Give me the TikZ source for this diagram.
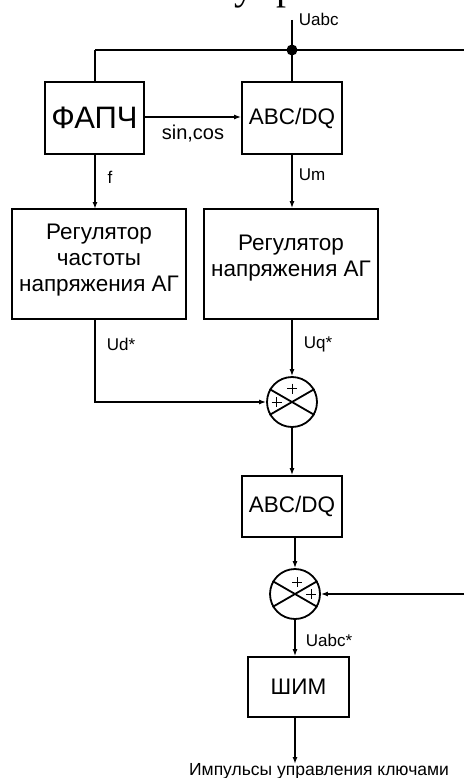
\documentclass[tikz,border=0pt]{standalone}
\usepackage{fontspec}
\setmainfont{Liberation Sans}
\newfontfamily\headfont{Liberation Serif}
\usetikzlibrary{arrows.meta}
\begin{document}
\begin{tikzpicture}[x=1pt,y=-1pt,
  line width=1.8pt,
  blk/.style={draw, rectangle, inner sep=0, line width=1.8pt},
  sumnode/.style={draw, circle, minimum size=50pt, inner sep=0, line width=1.8pt},
  arr/.style={-{Latex[length=7pt,width=5pt]}},
  lbl/.style={inner sep=0, font=\fontsize{17}{19}\selectfont},
  plus/.style={line width=0.8pt},
  regtext/.style={inner sep=0, align=center, font=\fontsize{22.5}{26}\selectfont},
]
\useasboundingbox (0,0) rectangle (464,778);

% heading fragment, cut at the top edge
\begin{scope}
  \clip (0,0) rectangle (464,778);
  \node[anchor=base west, inner sep=0, font=\headfont\fontsize{40}{40}\selectfont] (hu) at (234,0) {у};
  \node[anchor=base west, inner sep=0, font=\headfont\fontsize{40}{40}\selectfont] (hr) at (276,0) {р};
\end{scope}

% blocks
\node[blk, minimum width=99pt, minimum height=72pt, font=\fontsize{31}{32}\selectfont] (pll) at (94.5,118) {ФАПЧ};
\node[blk, minimum width=100pt, minimum height=72pt, font=\fontsize{22.5}{24}\selectfont] (abc1) at (292,118) {ABC/DQ};
\node[blk, minimum width=174pt, minimum height=110pt] (regf) at (99,264) {};
\node[regtext] (regftext) at (99,260) {Регулятор\\частоты\\напряжения АГ};
\node[blk, minimum width=174pt, minimum height=110pt] (regu) at (291,264) {};
\node[regtext] (regutext) at (291,258) {Регулятор\\напряжения АГ};
\node[sumnode] (s1) at (292,402) {};
\node[blk, minimum width=100pt, minimum height=61pt, font=\fontsize{22.5}{24}\selectfont] (abc2) at (292,506.5) {ABC/DQ};
\node[sumnode] (s2) at (295,594) {};
\node[blk, minimum width=101pt, minimum height=60pt, font=\fontsize{22.5}{24}\selectfont] (pwm) at (298.5,687) {ШИМ};

% crosses inside the summing junctions
\draw (s1.30) -- (s1.210) (s1.150) -- (s1.330);
\draw (s2.30) -- (s2.210) (s2.150) -- (s2.330);
\draw[plus] ([shift={(0,-13.5)}]s1.center) +(-5,0) -- +(5,0) +(0,-5) -- +(0,5);
\draw[plus] ([shift={(-15.5,0)}]s1.center) +(-5,0) -- +(5,0) +(0,-5) -- +(0,5);
\draw[plus] ([shift={(2,-12)}]s2.center) +(-5,0) -- +(5,0) +(0,-5) -- +(0,5);
\draw[plus] ([shift={(16,0)}]s2.center) +(-5,0) -- +(5,0) +(0,-5) -- +(0,5);

% input bus
\coordinate (uin) at (292,20);
\coordinate (bus) at (292,50);
\coordinate (busl) at (95,50);
\coordinate (busr) at (464,50);
\draw (uin) -- (bus);
\draw (busl) -- (busr);
\draw (busl) -- (busl |- pll.north);
\draw (bus) -- (abc1.north);
\fill (bus) circle (5.5pt);
\node[lbl, anchor=west] (luabc) at (298,19) {Uabc};

% signal flow
\draw[arr] (pll.east |- 0,117) -- (abc1.west |- 0,117);
\node[inner sep=0, font=\fontsize{20}{22}\selectfont] (lsin) at (193,134) {sin,cos};
\draw[arr] (95,154) -- (95,209);
\node[lbl] (lf) at (110,177) {f};
\draw[arr] (abc1.south) -- (regu.north -| abc1.south);
\node[lbl, anchor=west] (lum) at (298,175) {Um};
\draw[arr] (s1.north |- regu.south) -- (s1.north);
\node[lbl, anchor=west] (luq) at (303,344) {Uq*};
\draw[arr] (95,319) |- (s1.west);
\node[lbl, anchor=west] (lud) at (106,344) {Ud*};
\draw[arr] (s1.south) -- (abc2.north -| s1.south);
\draw[arr] (s2.north |- abc2.south) -- (s2.north);
\coordinate (fb) at (464,594);
\draw[arr] (fb) -- (s2.east);
\draw[arr] (s2.south) -- (s2.south |- pwm.north);
\node[lbl, anchor=west] (luabcs) at (305,640) {Uabc*};
\coordinate (out) at (295,764);
\draw[arr] (s2.south |- pwm.south) -- (out);
\node[inner sep=0, anchor=base, font=\fontsize{17.5}{19}\selectfont] (lout) at (319,775.5) {Импульсы управления ключами};
\end{tikzpicture}
\end{document}
